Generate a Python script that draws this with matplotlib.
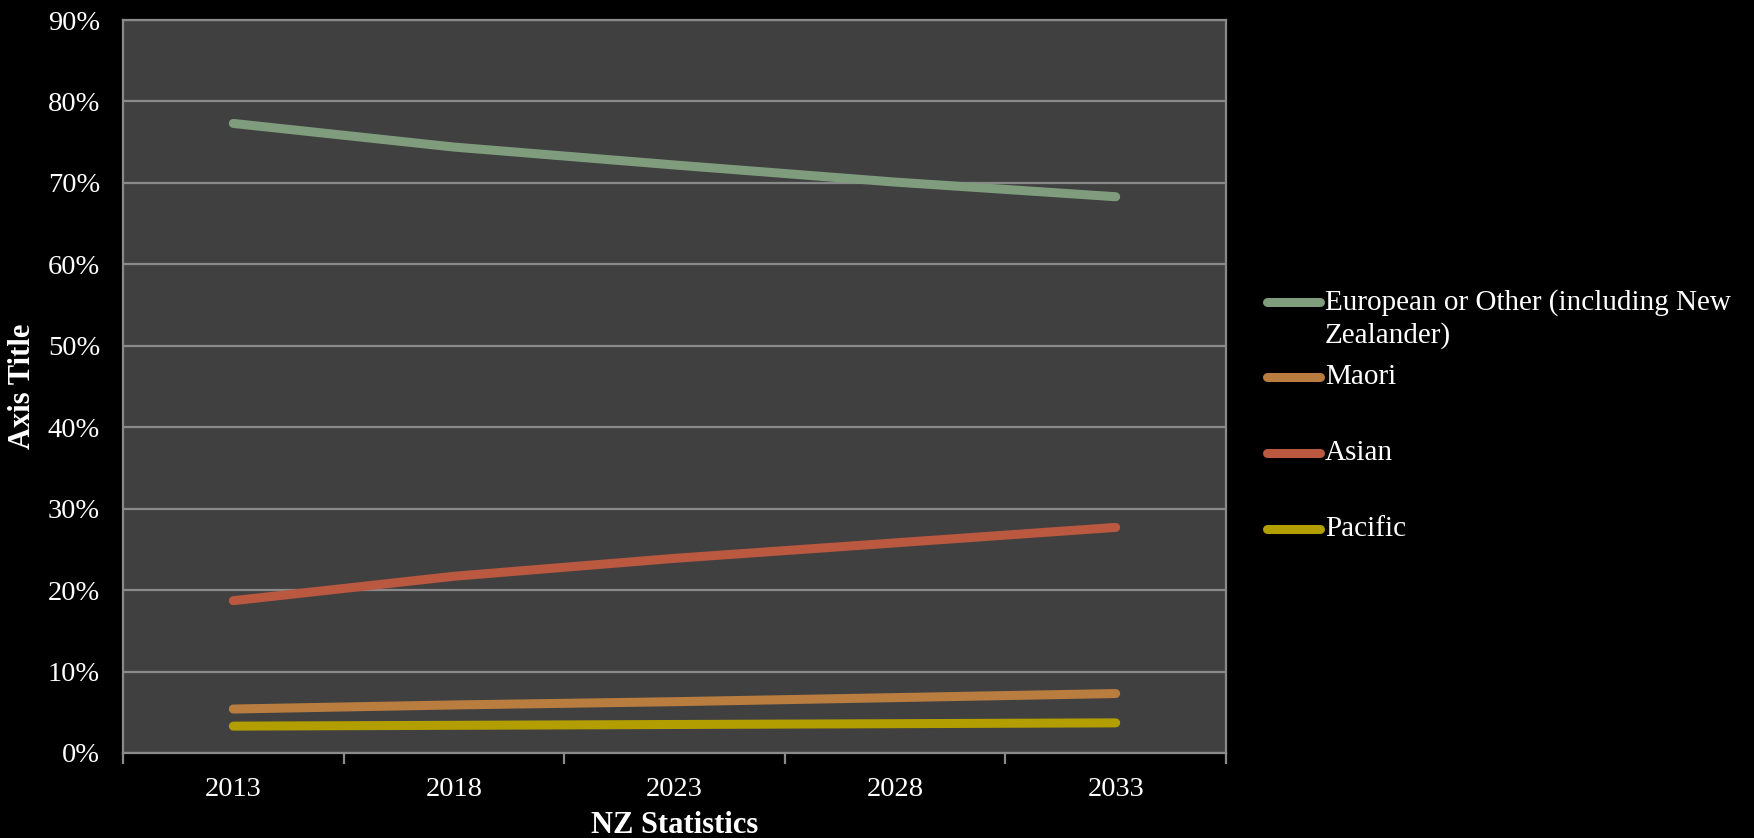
import matplotlib
matplotlib.use("Agg")
import matplotlib.pyplot as plt
from matplotlib.lines import Line2D
from matplotlib.ticker import FixedLocator, FuncFormatter

plt.rcParams['font.family'] = ['Liberation Serif', 'DejaVu Serif']

years = ["2013", "2018", "2023", "2028", "2033"]
european = [77.3, 74.4, 72.2, 70.1, 68.3]
maori = [5.4, 5.9, 6.3, 6.8, 7.3]
asian = [18.7, 21.7, 23.9, 25.8, 27.7]
pacific = [3.3, 3.4, 3.5, 3.6, 3.7]

series_names = ["European or Other (including New\nZealander)", "Maori", "Asian", "Pacific"]
series_values = [european, maori, asian, pacific]
series_colors = ["#7f9c7c", "#b97d40", "#ba5840", "#b39e00"]

W, H = 1754, 838
fig = plt.figure(figsize=(W / 100, H / 100), dpi=100, facecolor="black")
ax = fig.add_axes([123 / W, 1 - 753 / H, (1226 - 123) / W, (753 - 20) / H])
ax.set_facecolor("#404040")

x = list(range(len(years)))
for vals, col in zip(series_values, series_colors):
    ax.plot(x, vals, color=col, lw=6.5, solid_capstyle="round", zorder=3)

ax.set_xlim(-0.5, len(years) - 0.5)
ax.set_ylim(0, 90)
ax.yaxis.set_major_locator(FixedLocator(range(0, 91, 10)))
ax.yaxis.set_major_formatter(FuncFormatter(lambda v, p: f"{int(v)}%"))
ax.grid(axis="y", color="#8a8a8a", lw=1.6, zorder=1)
ax.set_axisbelow(True)

ax.set_xticks([i - 0.5 for i in range(len(years) + 1)])
ax.set_xticklabels([])
ax.set_xticks(x, minor=True)
ax.set_xticklabels(years, minor=True)
ax.tick_params(axis="x", which="major", length=8, width=1.6, color="#8a8a8a")
ax.tick_params(axis="x", which="minor", length=0, pad=17, labelsize=20.5, labelcolor="white")
ax.tick_params(axis="y", length=0, pad=16.5, labelsize=20.5, labelcolor="white")

for s in ax.spines.values():
    s.set_color("#8a8a8a")
    s.set_linewidth(1.6)

fig.text(23 / W, 1 - 386 / H, "Axis Title", rotation=90, ha="center", va="center",
         color="white", fontsize=22, fontweight="bold")
fig.text(674.5 / W, 1 - 825 / H, "NZ Statistics", ha="center", va="center",
         color="white", fontsize=22, fontweight="bold")

# legend on the right
legend_y = [302, 377, 453, 529]
for name, col, yy in zip(series_names, series_colors, legend_y):
    fig.add_artist(Line2D([1267 / W, 1320 / W], [1 - yy / H, 1 - yy / H], color=col,
                          lw=6.5, solid_capstyle="round", transform=fig.transFigure))
    fig.text(1325 / W, 1 - (yy - 13) / H, name, ha="left", va="top", color="white",
             fontsize=21, linespacing=1.3)

fig.savefig("out.png", dpi=100, facecolor="black")
